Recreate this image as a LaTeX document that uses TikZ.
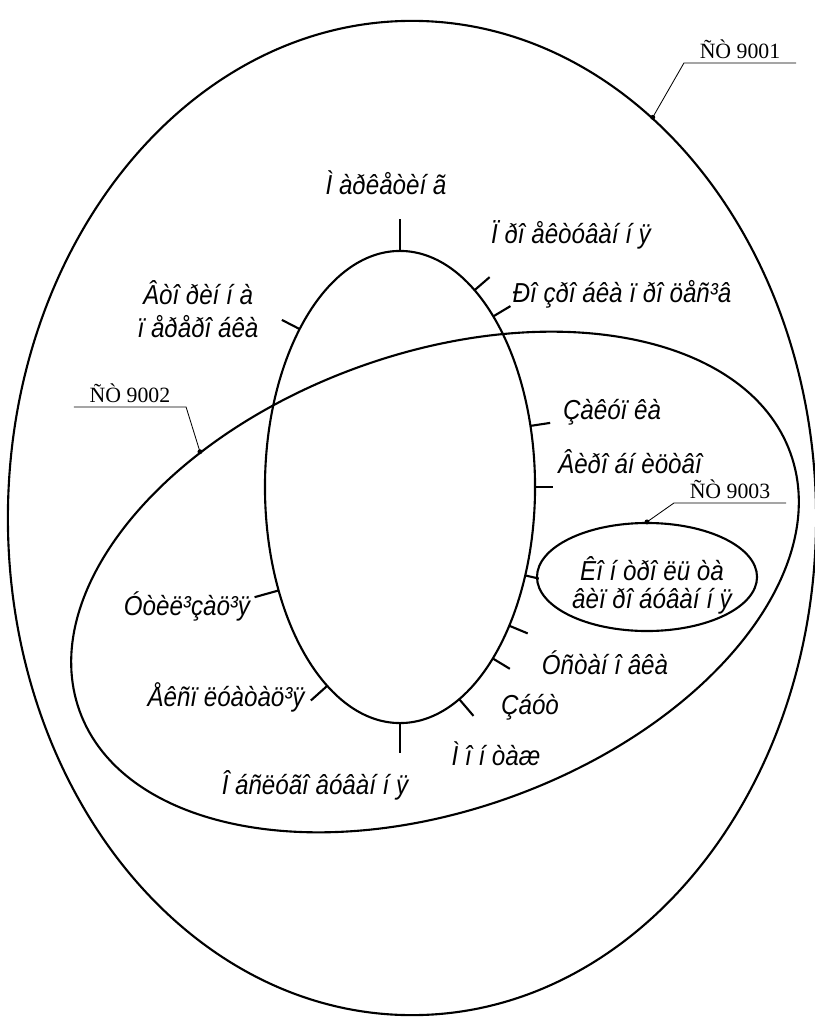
\documentclass[tikz,border=0pt]{standalone}
\usepackage{fontspec}
\setmainfont{Liberation Serif}
\newfontfamily\lblfont[FakeStretch=0.88]{Liberation Sans}
\usetikzlibrary{shapes.geometric}

\begin{document}
\begin{tikzpicture}[x=0.025cm,y=-0.025cm,line width=1.5pt]
\tikzstyle{el}=[draw,ellipse,inner sep=0pt]
\tikzstyle{lb}=[font=\lblfont\itshape\fontsize{19.5}{23.4}\selectfont,inner sep=0pt,align=center]
\tikzstyle{st}=[font=\fontsize{15.5}{18}\selectfont,inner xsep=0pt,inner ysep=2.5pt,anchor=south,minimum width=2.75cm]
\tikzstyle{ld}=[line width=0.6pt]
\tikzstyle{dt}=[circle,fill,inner sep=0pt,minimum size=3.5pt]
\useasboundingbox (0,0) rectangle (814,1023);
% ellipses
\node[el,minimum width=20.2cm,minimum height=24.85cm] (e1) at (412,518) {};
\node[el,minimum width=18.9cm,minimum height=11.4cm,rotate=20] (e2) at (435,582) {};
\node[el,minimum width=6.75cm,minimum height=11.8cm] (ein) at (400,487) {};
\node[el,minimum width=5.5cm,minimum height=2.7cm] (e3) at (647,577) {};
% ticks on the inner ellipse
\foreach \t/\l in {90/32,56.5/20,46.3/20,138/20,15/20,0/18,-22/14,-36/20,-46.6/20,-64/22,-90/30,237.4/22,206/25}
  \draw ({400+135*cos(\t)},{487-236*sin(\t)}) -- ++({\l*236*cos(\t)/veclen(236*cos(\t),135*sin(\t))},{-\l*135*sin(\t)/veclen(236*cos(\t),135*sin(\t))});
% labels
\node[lb] (mkt) at (386,183) {Ì àðêåòèí ã};
\node[lb] (prj) at (571,235) {Ï ðî åêòóâàí í ÿ};
\node[lb] (rzr) at (622,294) {Ðî çðî áêà ï ðî öåñ³â};
\node[lb] (vtr) at (198,309) {Âòî ðèí í à\\ ï åðåðî áêà};
\node[lb] (zak) at (612,412) {Çàêóï êà};
\node[lb] (vyr) at (630,462) {Âèðî áí èöòâî};
\node[lb,font=\lblfont\itshape\fontsize{19.5}{20}\selectfont] (kon) at (652,585) {Êî í òðî ëü òà\\âèï ðî áóâàí í ÿ};
\node[lb] (ust) at (605,663) {Óñòàí î âêà};
\node[lb] (zbt) at (530,707) {Çáóò};
\node[lb] (mon) at (496,754) {Ì î í òàæ};
\node[lb] (obs) at (315,785) {Î áñëóãî âóâàí í ÿ};
\node[lb] (eks) at (226,697) {Åêñï ëóàòàö³ÿ};
\node[lb] (utl) at (187,606) {Óòèë³çàö³ÿ};
% standard leaders
\node[dt] (p1) at (e1.59.3) {};
\node[dt] (p2) at (e2.131.6) {};
\node[dt] (p3) at (e3.north) {};
\node[st] (s1) at (740,63) {ÑÒ 9001};
\node[st] (s2) at (130,407) {ÑÒ 9002};
\node[st] (s3) at (730,503) {ÑÒ 9003};
\draw[ld] (p1.center) -- (s1.south west) -- (s1.south east);
\draw[ld] (p2.center) -- (s2.south east) -- (s2.south west);
\draw[ld] (p3.center) -- (s3.south west) -- (s3.south east);
\end{tikzpicture}
\end{document}
